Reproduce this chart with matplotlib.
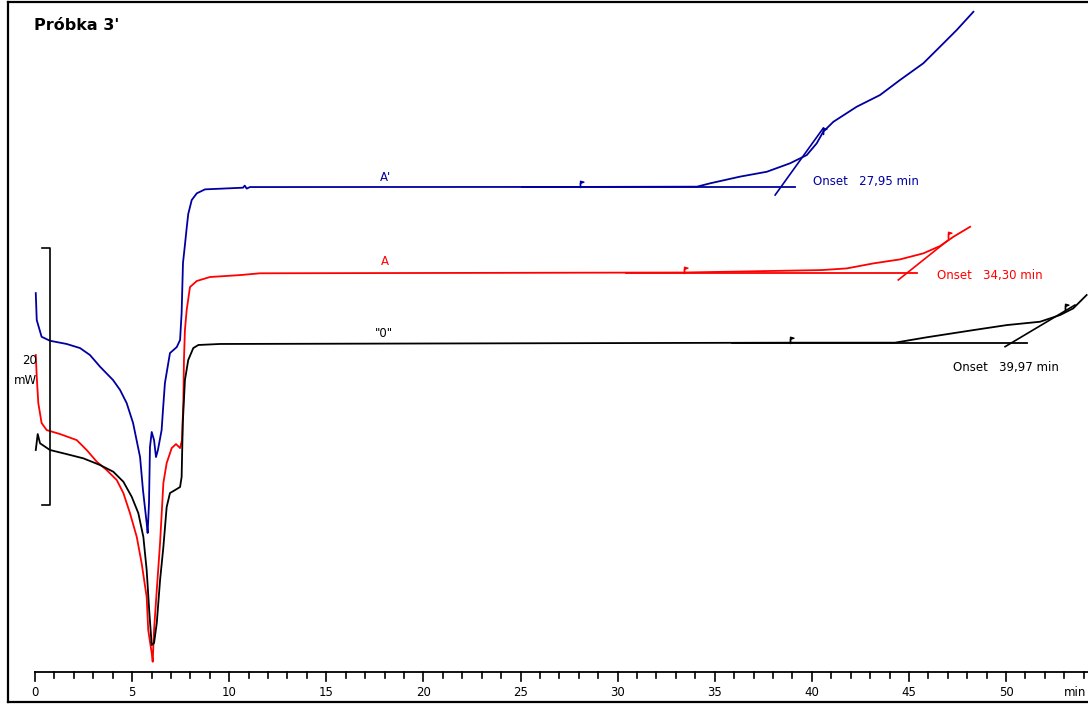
import matplotlib
matplotlib.use("Agg")
import matplotlib.pyplot as plt
from matplotlib.path import Path

# DSC traces: time [min], heat flow [mW]
t_A2 = [0.04, 0.09, 0.34, 0.77, 1.63, 2.32, 2.83, 3.35, 4.02, 4.38, 4.72, 5.05, 5.41, 5.56,
        5.75, 5.80, 5.87, 5.92, 6.01, 6.13, 6.23, 6.33, 6.52, 6.59, 6.69, 6.95, 7.30, 7.47,
        7.55, 7.62, 7.72, 7.81, 7.89, 8.07, 8.33, 8.75, 10.71, 10.80, 10.90, 11.07, 28.06,
        34.09, 34.76, 36.30, 37.68, 38.88, 39.74, 40.25, 40.59, 41.11, 42.31, 43.51, 44.54,
        45.74, 46.60, 47.46, 48.32]
q_A2 = [29.49, 27.39, 26.09, 25.78, 25.53, 25.21, 24.67, 23.76, 22.72, 21.95, 20.93, 19.38,
        16.73, 14.16, 11.60, 10.82, 13.15, 17.51, 18.68, 18.05, 16.73, 17.28, 18.83, 20.39,
        22.49, 24.82, 25.29, 25.84, 27.94, 31.83, 33.23, 34.55, 35.64, 36.73, 37.25, 37.56,
        37.69, 37.85, 37.62, 37.74, 37.75, 37.77, 38.03, 38.55, 38.93, 39.59, 40.23, 41.14,
        42.05, 42.82, 43.99, 44.90, 46.07, 47.37, 48.66, 49.96, 51.38]

t_A = [0.04, 0.09, 0.17, 0.34, 0.60, 1.29, 2.15, 2.66, 3.18, 3.69, 4.21, 4.55, 4.89, 5.24,
       5.49, 5.75, 5.83, 6.01, 6.06, 6.13, 6.27, 6.44, 6.61, 6.78, 7.04, 7.26, 7.47, 7.57,
       7.64, 7.67, 7.72, 7.81, 7.98, 8.33, 9.01, 10.56, 11.59, 33.42, 40.51, 41.80, 43.17,
       44.54, 45.74, 46.60, 47.29, 48.15]
q_A = [24.67, 22.98, 20.93, 19.38, 18.83, 18.52, 18.05, 17.28, 16.37, 15.72, 14.94, 13.93,
       12.37, 10.51, 8.48, 5.84, 3.27, 1.48, 0.80, 3.27, 6.38, 10.04, 14.71, 16.26, 17.43,
       17.74, 17.43, 18.05, 21.17, 24.28, 26.61, 28.17, 29.96, 30.43, 30.74, 30.89, 31.03,
       31.09, 31.28, 31.41, 31.80, 32.11, 32.58, 33.15, 33.87, 34.65]

t_0 = [0.04, 0.14, 0.26, 0.77, 1.63, 2.49, 3.35, 4.03, 4.55, 4.98, 5.32, 5.58, 5.75, 5.89,
       6.01, 6.13, 6.27, 6.44, 6.61, 6.78, 6.95, 7.21, 7.47, 7.55, 7.61, 7.72, 7.89, 8.15,
       8.41, 9.53, 38.88, 44.28, 45.92, 48.32, 50.04, 51.75, 52.78, 53.46, 54.15]
q_0 = [17.28, 18.52, 17.80, 17.28, 16.96, 16.63, 16.11, 15.59, 14.81, 13.64, 12.37, 10.51,
       7.94, 4.59, 2.10, 2.26, 3.81, 7.16, 9.73, 12.84, 13.93, 14.16, 14.40, 15.18, 19.38,
       22.72, 24.28, 25.21, 25.45, 25.53, 25.63, 25.63, 26.05, 26.61, 27.00, 27.26, 27.78,
       28.30, 29.34]

# onset construction: baseline level, baseline end, tangent ends, flag positions
onset_txt = ["Onset   27,95 min", "Onset   34,30 min", "Onset   39,97 min"]
base_q = [37.75, 31.09, 25.63]
base_end = [39.14, 45.40, 51.07]
tan_t = [(38.11, 40.59), (44.45, 47.03), (49.95, 53.55)]
tan_q = [(37.12, 42.33), (30.51, 33.62), (25.32, 28.56)]
flag_t = [(28.06, 40.56), (33.42, 47.01), (38.88, 53.04)]
flag_q = [(37.75, 41.90), (31.09, 33.80), (25.63, 28.20)]
names = ["A'", "A", '"0"']
colors = ["#0000a0", "#ff0000", "#000000"]

fig = plt.figure(figsize=(10.88, 7.04), dpi=100)
ax = fig.add_axes([8 / 1088, 2 / 704, 1080 / 1088, 700 / 704])
ax.set_xlim(-1.39, 54.22)
ax.set_ylim(-2.33, 52.14)
ax.set_xticks([])
ax.set_yticks([])
for s in ["left", "top", "bottom"]:
    ax.spines[s].set_linewidth(1.6)
ax.spines["right"].set_visible(False)

flag = Path([(0, 0), (0, 1), (0.55, 0.85), (0, 0.68), (0, 0)],
            [Path.MOVETO, Path.LINETO, Path.LINETO, Path.LINETO, Path.CLOSEPOLY])

traces = [(t_A2, q_A2), (t_A, q_A), (t_0, q_0)]
for i, (t, q) in enumerate(traces):
    c = colors[i]
    ax.plot(t, q, color=c, lw=1.3)
    ax.plot([flag_t[i][0] - 3, base_end[i]], [base_q[i], base_q[i]], color=c, lw=1.3)
    ax.plot(tan_t[i], tan_q[i], color=c, lw=1.2)
    ax.plot(flag_t[i], flag_q[i], ls="none", marker=flag, ms=9, color=c, mew=1.0)

fs = 8.5
# curve names and onset values
ax.text(18.07, 38.52, names[0], color=colors[0], fontsize=fs, ha="center", va="center")
ax.text(18.02, 31.91, names[1], color=colors[1], fontsize=fs, ha="center", va="center")
ax.text(17.97, 26.38, names[2], color=colors[2], fontsize=fs, ha="center", va="center")
ax.text(40.06, 38.21, onset_txt[0], color=colors[0], fontsize=fs, va="center")
ax.text(46.45, 30.89, onset_txt[1], color=colors[1], fontsize=fs, va="center")
ax.text(47.27, 23.66, onset_txt[2], color=colors[2], fontsize=fs, va="center")

# 20 mW scale bar
ax.plot([0.36, 0.77, 0.77, 0.36], [33.0, 33.0, 13.0, 13.0], color="black", lw=1.2)
ax.text(0.1, 24.28, "20", fontsize=fs, ha="right", va="center")
ax.text(0.1, 22.72, "mW", fontsize=fs, ha="right", va="center")

# time axis
ax.plot([0, 54.3], [0, 0], color="black", lw=1.3, clip_on=False)
for m in range(0, 55):
    ln = 0.7 if m % 5 == 0 else 0.45
    ax.plot([m, m], [0, -ln], color="black", lw=1.2)
    if m % 5 == 0 and m <= 50:
        ax.text(m, -1.6, str(m), fontsize=fs, ha="center", va="center")
ax.text(54.15, -1.6, "min", fontsize=fs, ha="right", va="center")

fig.text(34 / 1088, 1 - 25 / 704, "Próbka 3'", fontsize=11.5, fontweight="bold",
         ha="left", va="center")

fig.savefig("out.png", dpi=100)
